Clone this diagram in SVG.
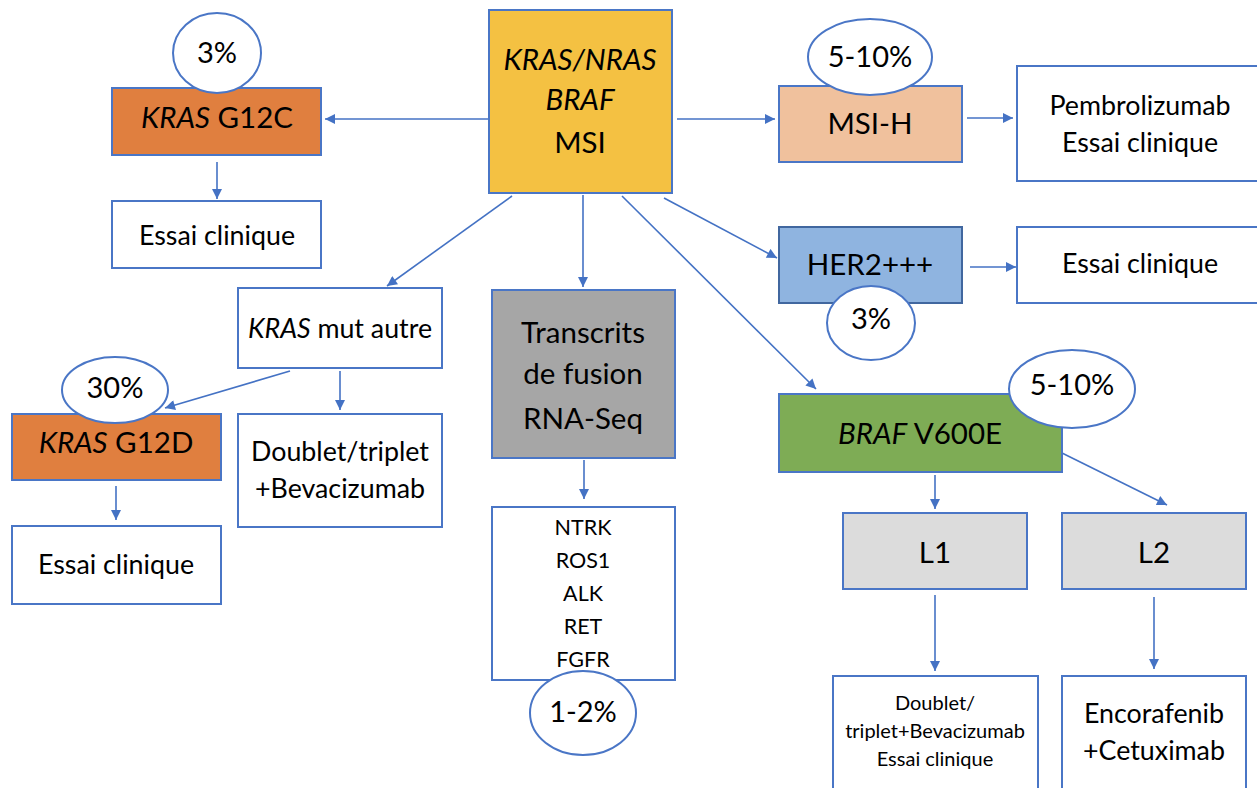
<svg xmlns="http://www.w3.org/2000/svg" width="1257" height="788" viewBox="0 0 1257 788">
<style>
.b{stroke:#4A76C6;stroke-width:2}
.w{fill:#fff}
.e{fill:#fff;stroke:#4A76C6;stroke-width:2}
text{font-family:Lato,"Open Sans","Liberation Sans",sans-serif;fill:#000;text-anchor:middle}
.L{font-size:29.5px}
.M{font-size:26.8px}
.P{font-size:29px}
.S{font-size:21.5px}
.X{font-size:20px}
.i{font-style:italic}
.c line{stroke:#4472C4;stroke-width:1.6;marker-end:url(#ah)}
</style>
<defs>
<marker id="ah" viewBox="0 0 10 10" refX="10" refY="5" markerWidth="11" markerHeight="10" markerUnits="userSpaceOnUse" orient="auto">
<path d="M0,0 L10,5 L0,10 z" fill="#4472C4"/>
</marker>
</defs>
<rect width="1257" height="788" fill="#fff"/>
<g class="c" id="connectors">
<line x1="488" y1="119" x2="325" y2="119"/>
<line x1="217" y1="162" x2="217" y2="199"/>
<line x1="512" y1="196" x2="387" y2="286"/>
<line x1="583" y1="195" x2="583" y2="287"/>
<line x1="677" y1="119" x2="775" y2="119"/>
<line x1="664" y1="198" x2="777" y2="258"/>
<line x1="622" y1="196" x2="816" y2="389"/>
<line x1="340" y1="371" x2="340" y2="410"/>
<line x1="290" y1="371" x2="165" y2="408"/>
<line x1="116" y1="486" x2="116" y2="520"/>
<line x1="584" y1="460" x2="584" y2="499"/>
<line x1="967" y1="118" x2="1013" y2="118"/>
<line x1="970" y1="267" x2="1016" y2="267"/>
<line x1="935" y1="475" x2="935" y2="509"/>
<line x1="1062" y1="453" x2="1167" y2="505"/>
<line x1="935" y1="595" x2="935" y2="671"/>
<line x1="1154" y1="597" x2="1154" y2="669"/>
</g>
<g id="center">
<rect x="489" y="10" width="183" height="183" fill="#F4C142" class="b"/>
<text class="L i" x="580" y="70">KRAS/NRAS</text>
<text class="L i" x="580" y="110">BRAF</text>
<text class="L" x="580" y="153">MSI</text>
</g>
<g id="kras-g12c">
<rect x="112" y="88" width="209" height="67" fill="#E07F3F" class="b"/>
<text class="L" x="217" y="128"><tspan class="i">KRAS</tspan> G12C</text>
</g>
<g id="pct-g12c">
<ellipse cx="217" cy="53" rx="44" ry="40" class="e"/>
<text class="P" x="217" y="63">3%</text>
</g>
<g id="essai-g12c">
<rect x="112" y="201" width="209" height="67" class="b w"/>
<text class="M" x="217" y="245">Essai clinique</text>
</g>
<g id="kras-mut-autre">
<rect x="238" y="288" width="204" height="80" class="b w"/>
<text class="M" x="340" y="338"><tspan class="i">KRAS</tspan> mut autre</text>
</g>
<g id="doublet-triplet">
<rect x="238" y="414" width="204" height="113" class="b w"/>
<text class="M" x="340" y="461">Doublet/triplet</text>
<text class="M" x="340" y="498">+Bevacizumab</text>
</g>
<g id="kras-g12d">
<rect x="12" y="414" width="209" height="66" fill="#E07F3F" class="b"/>
<text class="L" x="116" y="453"><tspan class="i">KRAS</tspan> G12D</text>
</g>
<g id="pct-g12d">
<ellipse cx="115" cy="390" rx="53" ry="33" class="e"/>
<text class="P" x="115" y="398">30%</text>
</g>
<g id="essai-g12d">
<rect x="12" y="526" width="209" height="78" class="b w"/>
<text class="M" x="116" y="574">Essai clinique</text>
</g>
<g id="transcrits">
<rect x="492" y="290" width="183" height="168" fill="#A6A6A6" class="b"/>
<text class="L" x="583" y="343">Transcrits</text>
<text class="L" x="583" y="384">de fusion</text>
<text class="L" x="583" y="429">RNA-Seq</text>
</g>
<g id="fusions">
<rect x="492" y="507" width="183" height="173" class="b w"/>
<text class="S" x="583" y="535">NTRK</text>
<text class="S" x="583" y="568">ROS1</text>
<text class="S" x="583" y="601">ALK</text>
<text class="S" x="583" y="634">RET</text>
<text class="S" x="583" y="667">FGFR</text>
</g>
<g id="pct-fusion">
<ellipse cx="583" cy="713" rx="53" ry="42" class="e"/>
<text class="P" x="583" y="722">1-2%</text>
</g>
<g id="msi-h">
<rect x="779" y="86" width="183" height="76" fill="#F0C19D" class="b"/>
<text class="L" x="870" y="134">MSI-H</text>
</g>
<g id="pct-msi">
<ellipse cx="870" cy="57" rx="62" ry="38" class="e"/>
<text class="P" x="870" y="67">5-10%</text>
</g>
<g id="pembro">
<rect x="1017" y="66" width="245" height="115" class="b w"/>
<text class="M" x="1140" y="115">Pembrolizumab</text>
<text class="M" x="1140" y="152">Essai clinique</text>
</g>
<g id="her2">
<rect x="779" y="227" width="183" height="76" fill="#8FB4E0" stroke="#41679F" stroke-width="2"/>
<text class="L" x="870" y="275">HER2+++</text>
</g>
<g id="pct-her2">
<ellipse cx="871" cy="323" rx="44" ry="37" class="e"/>
<text class="P" x="871" y="329">3%</text>
</g>
<g id="essai-her2">
<rect x="1017" y="227" width="245" height="76" class="b w"/>
<text class="M" x="1140" y="273">Essai clinique</text>
</g>
<g id="braf">
<rect x="779" y="394" width="283" height="78" fill="#7EAC55" class="b"/>
<text class="L" x="920" y="444"><tspan class="i">BRAF</tspan> V600E</text>
</g>
<g id="pct-braf">
<ellipse cx="1072" cy="389" rx="63" ry="39" class="e"/>
<text class="P" x="1072" y="395">5-10%</text>
</g>
<g id="l1">
<rect x="843" y="513" width="184" height="76" fill="#DCDCDC" class="b"/>
<text class="L" x="935" y="563">L1</text>
</g>
<g id="l2">
<rect x="1062" y="513" width="184" height="76" fill="#DCDCDC" class="b"/>
<text class="L" x="1154" y="563">L2</text>
</g>
<g id="l1-treat">
<rect x="833" y="676" width="205" height="120" class="b w"/>
<text class="X" x="935" y="710">Doublet/</text>
<text class="X" x="935" y="738">triplet+Bevacizumab</text>
<text class="X" x="935" y="766">Essai clinique</text>
</g>
<g id="l2-treat">
<rect x="1062" y="676" width="184" height="120" class="b w"/>
<text class="M" x="1154" y="723">Encorafenib</text>
<text class="M" x="1154" y="760">+Cetuximab</text>
</g>
</svg>
